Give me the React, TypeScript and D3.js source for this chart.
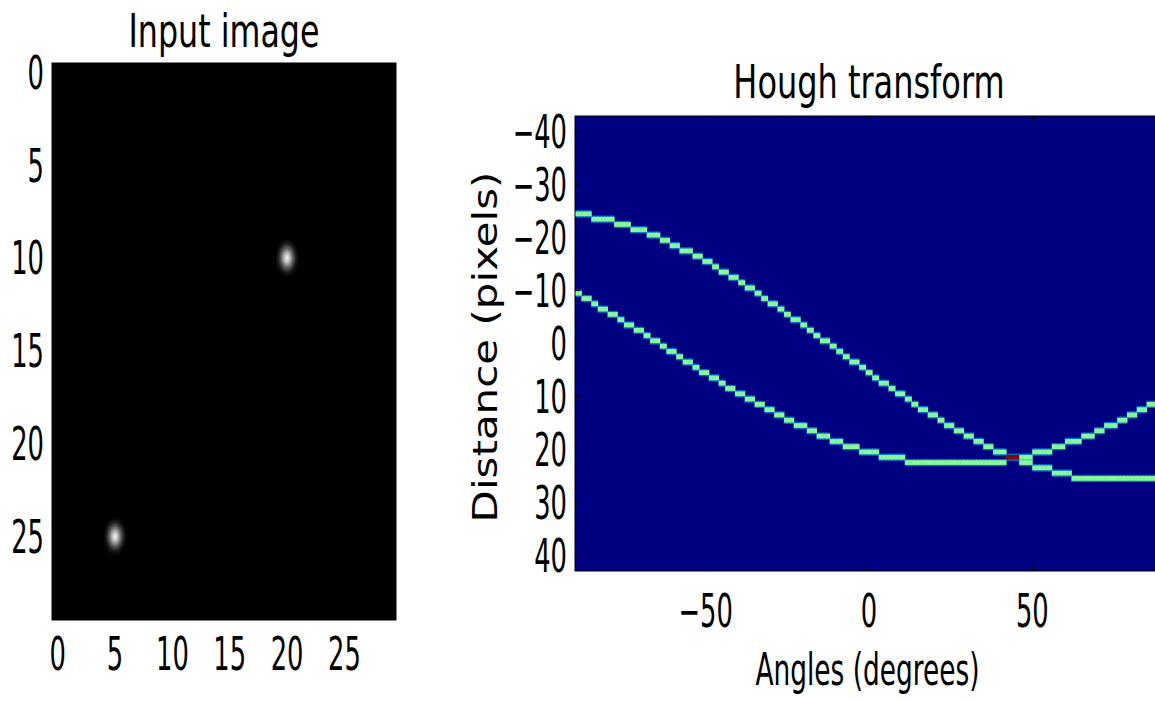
import React from 'react';
import * as d3 from 'd3';

// ---- data ----
// bright pixels of the 30x30 input image (column, row)
const INPUT_POINTS = [
  { col: 20, row: 10 },
  { col: 5, row: 25 },
];
const IMAGE_SIZE = 30;
const IMAGE_TICKS = [0, 5, 10, 15, 20, 25];
const ANGLE_TICKS = [-50, 0, 50];
const DIST_TICKS = [-40, -30, -20, -10, 0, 10, 20, 30, 40];
const N_THETA = 180; // angle bins of the accumulator
const MAX_DIST = 43; // half of the distance-bin count (86 bins)

const MINUS = '\u2212';
const fmt = (v: number) => (v < 0 ? MINUS + Math.abs(v) : String(v));

// matplotlib "jet" colormap
function seg(pts: number[][], t: number) {
  for (let i = 1; i < pts.length; i++) {
    if (t <= pts[i][0]) {
      const [x0, y0] = pts[i - 1];
      const [x1, y1] = pts[i];
      return y0 + ((t - x0) / (x1 - x0)) * (y1 - y0);
    }
  }
  return pts[pts.length - 1][1];
}
function jet(t: number) {
  const r = seg([[0, 0], [0.35, 0], [0.66, 1], [0.89, 1], [1, 0.5]], t);
  const g = seg([[0, 0], [0.125, 0], [0.375, 1], [0.64, 1], [0.91, 0], [1, 0]], t);
  const b = seg([[0, 0.5], [0.11, 1], [0.34, 1], [0.65, 0], [1, 0]], t);
  return d3.rgb(r * 255, g * 255, b * 255).formatHex();
}
const roundAway = (v: number) => Math.sign(v) * Math.round(Math.abs(v));

type TProps = {
  x: number; y: number; fs: number; sx: number; anchor?: string; children: React.ReactNode;
};
function T({ x, y, fs, sx, anchor = 'middle', children }: TProps) {
  return (
    <text
      transform={`translate(${x},${y}) scale(${sx},1)`}
      fontSize={fs}
      fontFamily="'DejaVu Sans', sans-serif"
      textAnchor={anchor}
      fill="#000"
    >
      {children}
    </text>
  );
}

export default function App() {
  const W = 1155;
  const H = 701;

  // left panel scales
  const lx = d3.scaleLinear().domain([-0.5, IMAGE_SIZE - 0.5]).range([52, 396]);
  const ly = d3.scaleLinear().domain([-0.5, IMAGE_SIZE - 0.5]).range([63, 620]);
  // right panel scales
  const ax = d3.scaleLinear().domain([-90, 90]).range([575, 1163]);
  const dy = d3.scaleLinear().domain([-MAX_DIST, MAX_DIST]).range([116, 571]);

  // Hough accumulator of the input points
  const acc = new Map<string, { j: number; r: number; v: number }>();
  for (let j = 0; j < N_THETA; j++) {
    const th = -Math.PI / 2 + (j * Math.PI) / (N_THETA - 1);
    for (const p of INPUT_POINTS) {
      const rho = roundAway(p.col * Math.cos(th) + p.row * Math.sin(th));
      const key = j + ':' + rho;
      const c = acc.get(key);
      if (c) c.v += 1;
      else acc.set(key, { j, r: rho, v: 1 });
    }
  }
  const cells = Array.from(acc.values());
  const vmax = d3.max(cells, (c) => c.v) || 1;

  const ex = lx(1) - lx(0);
  const ey = ly(1) - ly(0);

  const tickFs = 46;
  const tickSx = 0.56;

  return (
    <svg
      width={W}
      height={H}
      style={{ position: 'absolute', left: 0, top: 0, display: 'block', background: '#fff' }}
    >
      <defs>
        <radialGradient id="spot">
          <stop offset="0" stopColor="#fff" stopOpacity={0.97} />
          <stop offset="0.25" stopColor="#fff" stopOpacity={0.72} />
          <stop offset="0.5" stopColor="#fff" stopOpacity={0.36} />
          <stop offset="0.75" stopColor="#fff" stopOpacity={0.1} />
          <stop offset="1" stopColor="#fff" stopOpacity={0} />
        </radialGradient>
        <filter id="soft" x="-5%" y="-5%" width="110%" height="110%">
          <feGaussianBlur stdDeviation="0.6" />
        </filter>
        <clipPath id="rclip">
          <rect x={ax(-90)} y={dy(-MAX_DIST)} width={ax(90) - ax(-90)} height={dy(MAX_DIST) - dy(-MAX_DIST)} />
        </clipPath>
      </defs>

      {/* ---------- left: input image ---------- */}
      <rect x={lx(-0.5)} y={ly(-0.5)} width={lx(IMAGE_SIZE - 0.5) - lx(-0.5)} height={ly(IMAGE_SIZE - 0.5) - ly(-0.5)} fill="#000" />
      {INPUT_POINTS.map((p, i) => (
        <ellipse key={i} cx={lx(p.col)} cy={ly(p.row)} rx={ex * 1.05} ry={ey * 1.05} fill="url(#spot)" />
      ))}
      <rect x={lx(-0.5)} y={ly(-0.5)} width={lx(IMAGE_SIZE - 0.5) - lx(-0.5)} height={ly(IMAGE_SIZE - 0.5) - ly(-0.5)} fill="none" stroke="#000" strokeWidth={1} />
      <T x={224} y={47} fs={46} sx={0.69}>Input image</T>
      {IMAGE_TICKS.map((t) => (
        <T key={'ly' + t} x={44} y={ly(t) + 16.5} fs={tickFs} sx={tickSx} anchor="end">{fmt(t)}</T>
      ))}
      {IMAGE_TICKS.map((t) => (
        <T key={'lx' + t} x={lx(t)} y={670} fs={tickFs} sx={tickSx}>{fmt(t)}</T>
      ))}

      {/* ---------- right: Hough transform ---------- */}
      <g clipPath="url(#rclip)">
        <rect x={ax(-90)} y={dy(-MAX_DIST)} width={ax(90) - ax(-90)} height={dy(MAX_DIST) - dy(-MAX_DIST)} fill={jet(0)} />
        <g filter="url(#soft)">
          {/* soft cyan halo standing in for the interpolated edges */}
          {cells.map((c, i) => (
            <rect
              key={'h' + i}
              x={ax(-90 + c.j) - 0.5}
              y={dy(c.r) - 1}
              width={ax(-89 + c.j) - ax(-90 + c.j) + 1}
              height={dy(c.r + 1) - dy(c.r) + 2}
              fill={jet(0.3)}
              opacity={0.55}
            />
          ))}
          {cells.map((c, i) => (
            <rect
              key={i}
              x={ax(-90 + c.j)}
              y={dy(c.r) + 0.3}
              width={ax(-89 + c.j) - ax(-90 + c.j) + 0.3}
              height={dy(c.r + 1) - dy(c.r) - 0.6}
              fill={c.v === vmax && vmax > 1 ? jet(1) : d3.interpolateRgb(jet(c.v / vmax), '#a8f0c8')(0.35)}
            />
          ))}
        </g>
      </g>
      {ANGLE_TICKS.map((t) => (
        <g key={'at' + t}>
          <line x1={ax(t)} x2={ax(t)} y1={dy(MAX_DIST)} y2={dy(MAX_DIST) - 5} stroke="#000" />
          <line x1={ax(t)} x2={ax(t)} y1={dy(-MAX_DIST)} y2={dy(-MAX_DIST) + 5} stroke="#000" />
        </g>
      ))}
      {DIST_TICKS.map((t) => (
        <line key={'dt' + t} x1={ax(-90)} x2={ax(-90) + 5} y1={dy(t)} y2={dy(t)} stroke="#000" />
      ))}
      <rect x={ax(-90)} y={dy(-MAX_DIST)} width={ax(90) - ax(-90)} height={dy(MAX_DIST) - dy(-MAX_DIST)} fill="none" stroke="#000" strokeWidth={1} />
      <T x={869} y={98} fs={46} sx={0.695}>Hough transform</T>
      {DIST_TICKS.map((t) => (
        <T key={'ry' + t} x={567} y={dy(t) + 16.5} fs={tickFs} sx={tickSx} anchor="end">{fmt(t)}</T>
      ))}
      {ANGLE_TICKS.map((t) => (
        <T key={'rx' + t} x={ax(t)} y={627} fs={tickFs} sx={tickSx}>{fmt(t)}</T>
      ))}
      <T x={867.5} y={685} fs={45} sx={0.587}>Angles (degrees)</T>
      <text
        transform="translate(497,347) rotate(-90) scale(1,0.79)"
        fontSize={42}
        fontFamily="'DejaVu Sans', sans-serif"
        textAnchor="middle"
        fill="#000"
      >
        Distance (pixels)
      </text>
    </svg>
  );
}
